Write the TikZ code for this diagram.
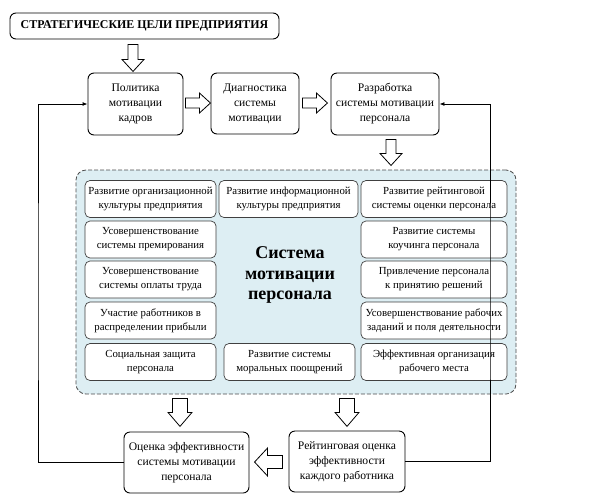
\documentclass[tikz,border=0pt]{standalone}
\usepackage{fontspec}
\setmainfont{Liberation Serif}
\usetikzlibrary{calc,arrows.meta}
\definecolor{regfill}{HTML}{DDEEF3}
\definecolor{boxline}{HTML}{404040}
\begin{document}
\begin{tikzpicture}[x=1pt,y=-1pt,
  outerbox/.style={draw, line width=0.9pt, rounded corners=6pt, align=center, inner sep=1pt,
    font=\fontsize{11.6}{15}\selectfont},
  innerbox/.style={draw=boxline, line width=0.7pt, fill=white, rounded corners=5pt, align=center, inner sep=1pt,
    minimum height=37pt, font=\fontsize{10.8}{13.8}\selectfont},
  leftcol/.style={innerbox, minimum width=131pt},
  midcol/.style={innerbox, minimum width=139pt},
  rightcol/.style={innerbox, minimum width=146pt},
  loopline/.style={line width=0.9pt, -{Latex[length=5pt,width=4pt]}},
  pics/hollow/.style args={#1/#2/#3/#4}{code={
    \draw[line width=0.8pt, fill=white] (0,-#3) -- (#2,-#3) -- (#2,-#4) -- (#1,0) -- (#2,#4) -- (#2,#3) -- (0,#3) -- cycle;}}
]
\useasboundingbox (0,0) rectangle (591,499);

% outer boxes
\node[outerbox, minimum width=269pt, minimum height=26pt, font=\bfseries\fontsize{11.9}{13}\selectfont] (top) at (144.5,26) {СТРАТЕГИЧЕСКИЕ ЦЕЛИ ПРЕДПРИЯТИЯ};
\node[outerbox, minimum width=95pt, minimum height=62pt] (pol) at (135.5,104) {Политика\\мотивации\\кадров};
\node[outerbox, minimum width=88pt, minimum height=61pt] (diag) at (255,103.5) {Диагностика\\системы\\мотивации};
\node[outerbox, minimum width=108pt, minimum height=62pt] (razr) at (385,104) {Разработка\\системы мотивации\\персонала};
\node[outerbox, minimum width=125pt, minimum height=61pt] (ocen) at (186.5,462.5) {Оценка эффективности\\системы мотивации\\персонала};
\node[outerbox, minimum width=116pt, minimum height=61pt] (reit) at (347,461.5) {Рейтинговая оценка\\эффективности\\каждого работника};

% region
\node[draw=black!70, dashed, dash pattern=on 4pt off 2pt, line width=0.8pt, fill=regfill, rounded corners=10pt,
  minimum width=440pt, minimum height=224pt] (reg) at (296,282) {};
\node[font=\bfseries\fontsize{18}{20.5}\selectfont, align=center] (title) at (290,275) {Система\\мотивации\\персонала};

% inner boxes
\node[leftcol] (l1) at (150.5,199) {Развитие организационной\\культуры предприятия};
\node[leftcol] (l2) at (150.5,239.5) {Усовершенствование\\системы премирования};
\node[leftcol] (l3) at (150.5,279.5) {Усовершенствование\\системы оплаты труда};
\node[leftcol] (l4) at (150.5,320.5) {Участие работников в\\распределении прибыли};
\node[leftcol] (l5) at (150.5,362) {Социальная защита\\персонала};
\node[midcol] (m1) at (288.5,199) {Развитие информационной\\культуры предприятия};
\node[midcol, minimum width=131pt] (m5) at (289.5,362) {Развитие системы\\моральных поощрений};
\node[rightcol] (r1) at (434,199) {Развитие рейтинговой\\системы оценки персонала};
\node[rightcol] (r2) at (434,239.5) {Развитие системы\\коучинга персонала};
\node[rightcol] (r3) at (434,279.5) {Привлечение персонала\\к принятию решений};
\node[rightcol] (r4) at (434,320.5) {Усовершенствование рабочих\\заданий и поля деятельности};
\node[rightcol] (r5) at (434,362) {Эффективная организация\\рабочего места};

% hollow arrows
\pic[rotate=-90] at ($(top.south -| pol.north)+(-2.5,5)$) {hollow=27/15/5/11};
\pic at ($(pol.east)+(2,-1)$) {hollow=25/14/5/10};
\pic at ($(diag.east)+(3,-0.5)$) {hollow=25/14/5/10};
\pic[rotate=-90] at ($(razr.south)+(6,4)$) {hollow=26/14/5/11};
\pic[rotate=-90] at ($(reg.south)+(-116,4)$) {hollow=28/14/7.5/12};
\pic[rotate=-90] at ($(reg.south)+(51,4)$) {hollow=28/14/7.5/12};
\pic[rotate=180] at ($(reit.west)+(-6,0.5)$) {hollow=28/15/6.5/14};

% feedback loops
\coordinate (lc) at (38,300);
\coordinate (rc) at (490,300);
\draw[loopline] (ocen.west) -| (lc) |- (pol.west);
\draw[loopline] (reit.east) -| (rc) |- (razr.east);
\end{tikzpicture}
\end{document}
